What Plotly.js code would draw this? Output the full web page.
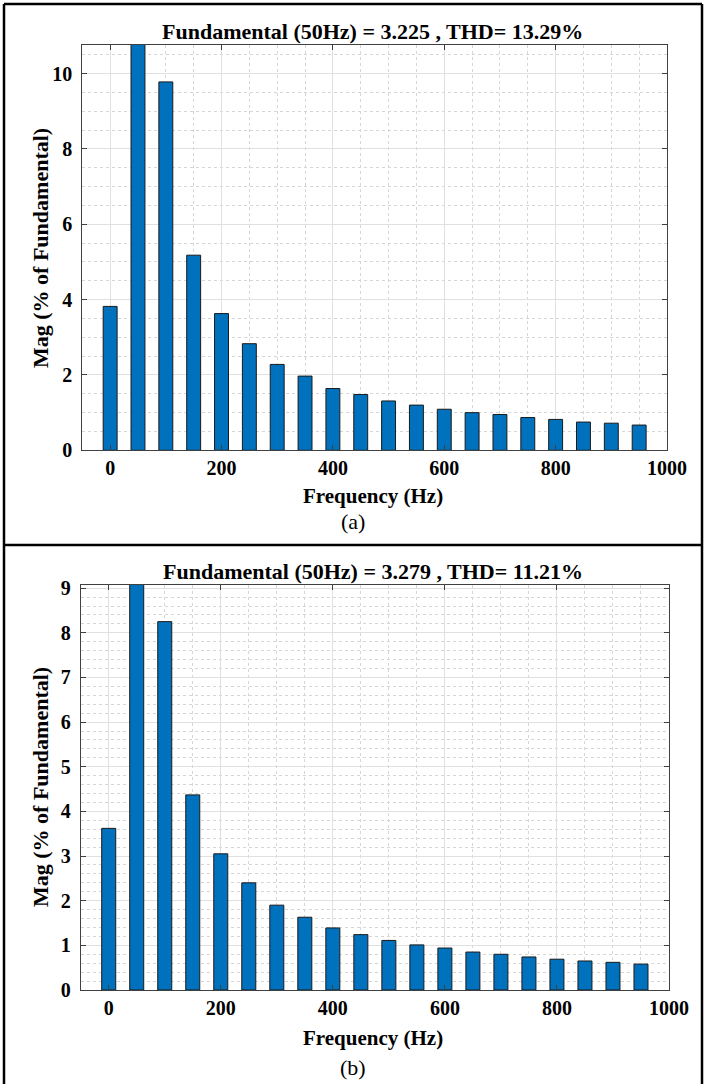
<!DOCTYPE html>
<html>
<head>
<meta charset="utf-8">
<script src="https://cdn.plot.ly/plotly-3.0.1.min.js"></script>
<style>html,body{margin:0;padding:0;background:#fff;}#chart{width:706px;height:1084px;}</style>
</head>
<body>
<div id="chart"></div>
<script>
// Harmonic frequencies (Hz)
const freq = [0, 50, 100, 150, 200, 250, 300, 350, 400, 450, 500, 550, 600, 650, 700, 750, 800, 850, 900, 950];
// Panel (a): magnitude (% of fundamental); fundamental = 100% (clipped by axis)
const magA = [3.82, 100, 9.78, 5.18, 3.63, 2.83, 2.28, 1.97, 1.64, 1.48, 1.31, 1.20, 1.09, 1.00, 0.95, 0.87, 0.82, 0.75, 0.72, 0.67];
// Panel (b)
const magB = [3.62, 100, 8.25, 4.37, 3.05, 2.40, 1.90, 1.63, 1.39, 1.24, 1.11, 1.01, 0.94, 0.85, 0.80, 0.74, 0.69, 0.65, 0.62, 0.58];

const titleA = "Fundamental (50Hz) = 3.225 , THD= 13.29%";
const titleB = "Fundamental (50Hz) = 3.279 , THD= 11.21%";
const xTitle = "Frequency (Hz)";
const yTitle = "Mag (% of Fundamental)";
const labelA = "(a)";
const labelB = "(b)";
const xTickVals = [0, 200, 400, 600, 800, 1000];

const W = 706, H = 1084;
const px = v => v / W;
const py = v => 1 - v / H;

const serif = "Liberation Serif, Times New Roman, serif";
const tickFont = {family: serif, size: 20, color: '#000', weight: 700};

function bar(y, xa, ya) {
  return {
    type: 'bar', x: freq, y: y, xaxis: xa, yaxis: ya,
    width: 25,
    marker: {color: '#0072BD', line: {color: '#1a1a1a', width: 1}},
    hoverinfo: 'x+y'
  };
}

function xAxis(domain, anchor) {
  return {
    domain: domain, anchor: anchor, range: [-50, 1000],
    tickmode: 'array', tickvals: xTickVals,
    ticks: 'inside', ticklen: 5, tickcolor: '#404040', tickwidth: 1,
    showline: true, linecolor: '#404040', linewidth: 1, mirror: 'ticks',
    showgrid: true, gridcolor: '#e0e0e0', gridwidth: 1, zeroline: false,
    minor: {dtick: 50, tick0: 0, showgrid: true, gridcolor: '#d6d6d6', griddash: 'dot', gridwidth: 1, ticks: ''},
    tickfont: tickFont, ticklabelstandoff: 0, fixedrange: true
  };
}
function yAxis(domain, anchor, top, dtick, mdtick) {
  return {
    domain: domain, anchor: anchor, range: [0, top],
    dtick: dtick, tick0: 0,
    ticks: 'inside', ticklen: 5, tickcolor: '#404040', tickwidth: 1,
    showline: true, linecolor: '#404040', linewidth: 1, mirror: 'ticks',
    showgrid: true, gridcolor: '#e0e0e0', gridwidth: 1, zeroline: false,
    minor: {dtick: mdtick, tick0: 0, showgrid: true, gridcolor: '#d6d6d6', griddash: 'dot', gridwidth: 1, ticks: ''},
    tickfont: tickFont, ticklabelstandoff: 5, fixedrange: true
  };
}

const data = [bar(magA, 'x', 'y'), bar(magB, 'x2', 'y2')];

const domAx = [px(82.3), px(667)], domAy = [py(450.3), py(45)];
const domBx = [px(80.7), px(669)], domBy = [py(990), py(584.8)];

function ann(text, x, y, size, bold, angle) {
  return {
    text: text, xref: 'paper', yref: 'paper', x: px(x), y: py(y),
    xanchor: 'center', yanchor: 'middle', showarrow: false,
    textangle: angle || 0,
    font: {family: serif, size: size, color: '#000', weight: bold ? 700 : 400}
  };
}

const layout = {
  width: W, height: H,
  margin: {l: 0, r: 0, t: 0, b: 0},
  paper_bgcolor: '#fff', plot_bgcolor: '#fff',
  showlegend: false, bargap: 0,
  xaxis: xAxis(domAx, 'y'),
  yaxis: yAxis(domAy, 'x', 10.76, 2, 0.5),
  xaxis2: xAxis(domBx, 'y2'),
  yaxis2: yAxis(domBy, 'x2', 9.075, 1, 0.2),
  annotations: [
    ann(titleA, 373, 31, 22, true),
    ann(xTitle, 373, 496, 21, true),
    ann(labelA, 353, 521, 22, false),
    ann(yTitle, 40, 248, 22, true, -90),
    ann(titleB, 373, 571, 22, true),
    ann(xTitle, 373, 1038, 21, true),
    ann(labelB, 353, 1067, 22, false),
    ann(yTitle, 40, 787, 22, true, -90)
  ],
  shapes: [
    {type: 'line', xref: 'paper', yref: 'paper', x0: px(4), x1: px(702), y0: py(4), y1: py(4), line: {color: '#000', width: 2.5}},
    {type: 'line', xref: 'paper', yref: 'paper', x0: px(4), x1: px(702), y0: py(545), y1: py(545), line: {color: '#000', width: 2.5}},
    {type: 'line', xref: 'paper', yref: 'paper', x0: px(4), x1: px(4), y0: py(4), y1: py(1084), line: {color: '#000', width: 2.5}},
    {type: 'line', xref: 'paper', yref: 'paper', x0: px(702), x1: px(702), y0: py(4), y1: py(1084), line: {color: '#000', width: 2.5}}
  ]
};

Plotly.newPlot('chart', data, layout, {displayModeBar: false, staticPlot: true});
</script>
</body>
</html>
